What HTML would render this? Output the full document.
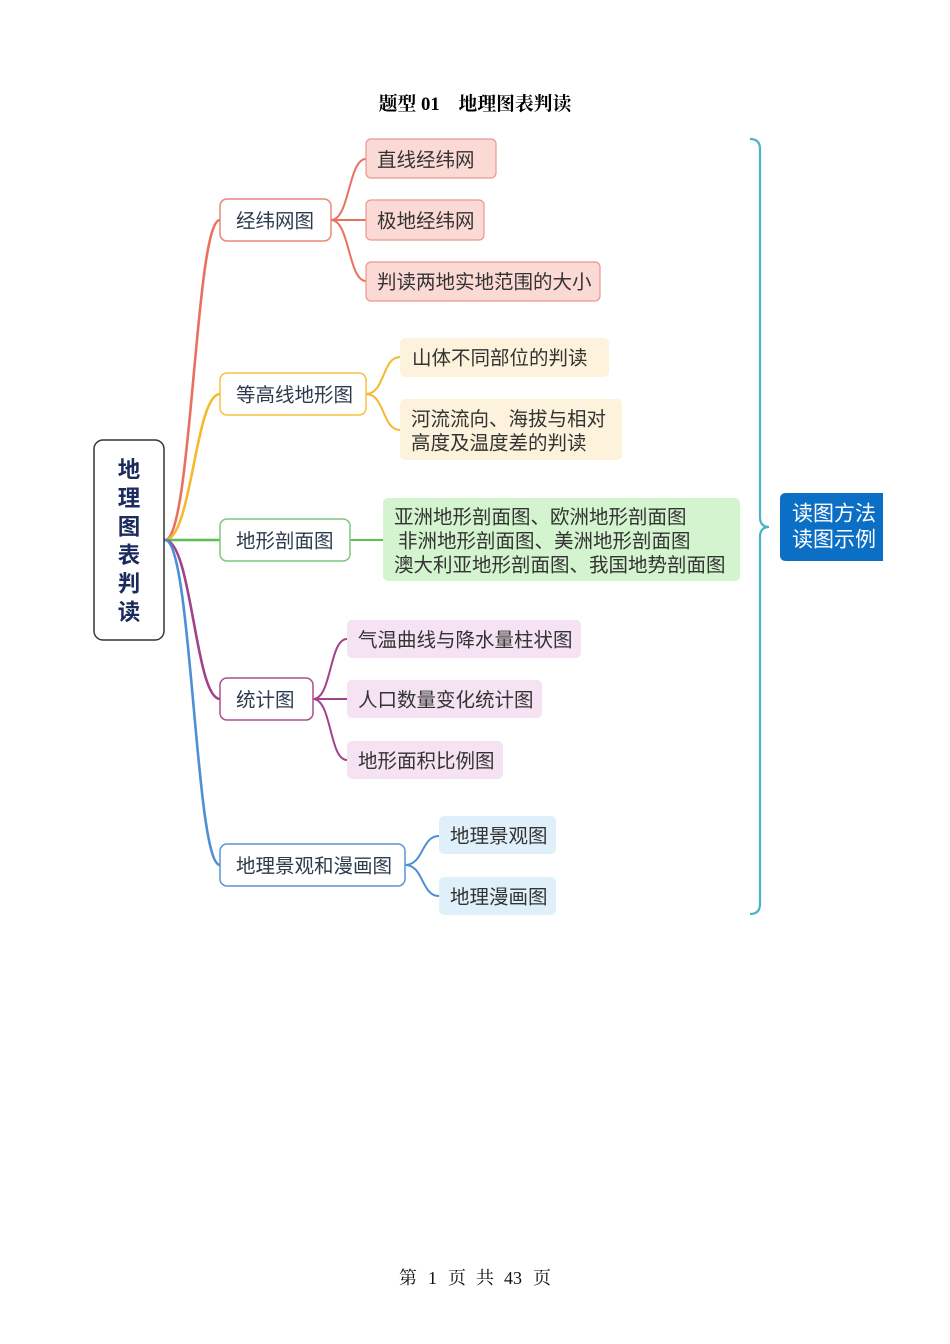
<!DOCTYPE html>
<html><head><meta charset="utf-8">
<style>
html,body{margin:0;padding:0;background:#fff;}
body{width:950px;height:1344px;overflow:hidden;}
svg{display:block;}
.n{font-family:"Liberation Sans","Noto Sans CJK SC",sans-serif;font-size:19.5px;fill:#333;}
.l1{fill:#2c3a4e;}
</style></head>
<body>
<svg width="950" height="1344" viewBox="0 0 950 1344" xmlns="http://www.w3.org/2000/svg">
<!-- title -->
<text x="475" y="110" text-anchor="middle" font-family="'Liberation Serif','Noto Serif CJK SC',serif" font-weight="bold" font-size="18.8" fill="#000">题型 01　地理图表判读</text>

<!-- main connectors -->
<g fill="none" stroke-width="2.6" stroke-linecap="round">
<path d="M165,540 C192,540 195,220 220,220" stroke="#e9705f"/>
<path d="M165,540 C192,540 195,394 220,394" stroke="#f5b92e"/>
<path d="M165,540 L220,540" stroke="#5cbf4f"/>
<path d="M165,540 C192,540 195,699 220,699" stroke="#a0438a"/>
<path d="M165,540 C192,540 195,865 220,865" stroke="#4d8fd4"/>
</g>
<!-- sub connectors -->
<g fill="none" stroke-width="2" stroke-linecap="round">
<path d="M331,220 C350,220 348,159 366,159" stroke="#e9705f"/>
<path d="M331,220 L366,220" stroke="#e9705f"/>
<path d="M331,220 C350,220 348,281 366,281" stroke="#e9705f"/>
<path d="M366,394 C385,394 382,357 400,357" stroke="#f5b92e"/>
<path d="M366,394 C385,394 382,430 400,430" stroke="#f5b92e"/>
<path d="M350,540 L383,540" stroke="#5cbf4f"/>
<path d="M313,699 C332,699 329,639 347,639" stroke="#a0438a"/>
<path d="M313,699 L347,699" stroke="#a0438a"/>
<path d="M313,699 C332,699 329,760 347,760" stroke="#a0438a"/>
<path d="M405,865 C424,865 421,836 439,836" stroke="#4d8fd4"/>
<path d="M405,865 C424,865 421,896 439,896" stroke="#4d8fd4"/>
</g>

<!-- root -->
<rect x="94" y="440" width="70" height="200" rx="9" fill="#fff" stroke="#333" stroke-width="1.5"/>
<g font-family="'Liberation Sans','Noto Sans CJK SC',sans-serif" font-weight="bold" font-size="22.5" fill="#1c2b5e" text-anchor="middle" dominant-baseline="central">
<text x="129" y="470">地</text>
<text x="129" y="498.5">理</text>
<text x="129" y="527">图</text>
<text x="129" y="555.5">表</text>
<text x="129" y="584">判</text>
<text x="129" y="612.5">读</text>
</g>

<g dominant-baseline="central">
<!-- level 1 nodes -->
<rect x="220" y="199" width="111" height="42" rx="7" fill="#fff" stroke="#e8877a" stroke-width="1.5"/>
<text class="n l1" x="236" y="221.5">经纬网图</text>
<rect x="220" y="373" width="146" height="42" rx="7" fill="#fff" stroke="#f5c040" stroke-width="1.5"/>
<text class="n l1" x="236" y="395.5">等高线地形图</text>
<rect x="220" y="519" width="130" height="42" rx="7" fill="#fff" stroke="#7dc87d" stroke-width="1.5"/>
<text class="n l1" x="236" y="541.5">地形剖面图</text>
<rect x="220" y="678" width="93" height="42" rx="7" fill="#fff" stroke="#a9508e" stroke-width="1.5"/>
<text class="n l1" x="236" y="700.5">统计图</text>
<rect x="220" y="844" width="185" height="42" rx="7" fill="#fff" stroke="#5c93d6" stroke-width="1.5"/>
<text class="n l1" x="236" y="866.5">地理景观和漫画图</text>

<!-- red children -->
<rect x="366" y="139" width="130" height="39" rx="5" fill="#fbd9d4" stroke="#eb978d" stroke-width="1.2"/>
<text class="n" x="377" y="160.5">直线经纬网</text>
<rect x="366" y="200" width="118" height="40" rx="5" fill="#fbd9d4" stroke="#eb978d" stroke-width="1.2"/>
<text class="n" x="377" y="221.5">极地经纬网</text>
<rect x="366" y="262" width="234" height="39" rx="5" fill="#fbd9d4" stroke="#eb978d" stroke-width="1.2"/>
<text class="n" x="377" y="282.5">判读两地实地范围的大小</text>

<!-- yellow children -->
<rect x="400" y="338" width="209" height="39" rx="5" fill="#fdf3dc"/>
<text class="n" x="412" y="358.5">山体不同部位的判读</text>
<rect x="400" y="399" width="222" height="61" rx="5" fill="#fdf3dc"/>
<text class="n" x="411" y="419.5">河流流向、海拔与相对</text>
<text class="n" x="411" y="443.5">高度及温度差的判读</text>

<!-- green child -->
<rect x="383" y="498" width="357" height="83" rx="5" fill="#d4f3cf"/>
<text class="n" x="394" y="517.5">亚洲地形剖面图、欧洲地形剖面图</text>
<text class="n" x="398" y="541.5">非洲地形剖面图、美洲地形剖面图</text>
<text class="n" x="394" y="565.5">澳大利亚地形剖面图、我国地势剖面图</text>

<!-- purple children -->
<rect x="347" y="620" width="234" height="38" rx="5" fill="#f5e2f2"/>
<text class="n" x="358" y="640.5">气温曲线与降水量柱状图</text>
<rect x="347" y="680" width="195" height="38" rx="5" fill="#f5e2f2"/>
<text class="n" x="358" y="700.5">人口数量变化统计图</text>
<rect x="347" y="741" width="156" height="38" rx="5" fill="#f5e2f2"/>
<text class="n" x="358" y="761.5">地形面积比例图</text>

<!-- blue children -->
<rect x="439" y="816" width="117" height="38" rx="5" fill="#dff0fb"/>
<text class="n" x="450" y="836.5">地理景观图</text>
<rect x="439" y="877" width="117" height="38" rx="5" fill="#dff0fb"/>
<text class="n" x="450" y="897.5">地理漫画图</text>
</g>

<!-- brace -->
<path d="M750,139 Q760,139 760,149 L760,517 Q760,527 769,527 Q760,527 760,537 L760,904 Q760,914 750,914" fill="none" stroke="#4ab3c9" stroke-width="2.2"/>

<!-- blue box -->
<path d="M786,493 L883,493 L883,561 L786,561 Q780,561 780,555 L780,499 Q780,493 786,493 Z" fill="#0b6fc6"/>
<g font-family="'Liberation Sans','Noto Sans CJK SC',sans-serif" font-size="21" fill="#fff" dominant-baseline="central">
<text x="792" y="514">读图方法</text>
<text x="792" y="540">读图示例</text>
</g>

<!-- footer -->
<g font-family="'Liberation Serif','Noto Serif CJK SC',serif" font-size="18" fill="#111">
<text x="399" y="1284">第</text>
<text x="428" y="1284">1</text>
<text x="448" y="1284">页</text>
<text x="476" y="1284">共</text>
<text x="504" y="1284">43</text>
<text x="533" y="1284">页</text>
</g>
</svg>
</body></html>
